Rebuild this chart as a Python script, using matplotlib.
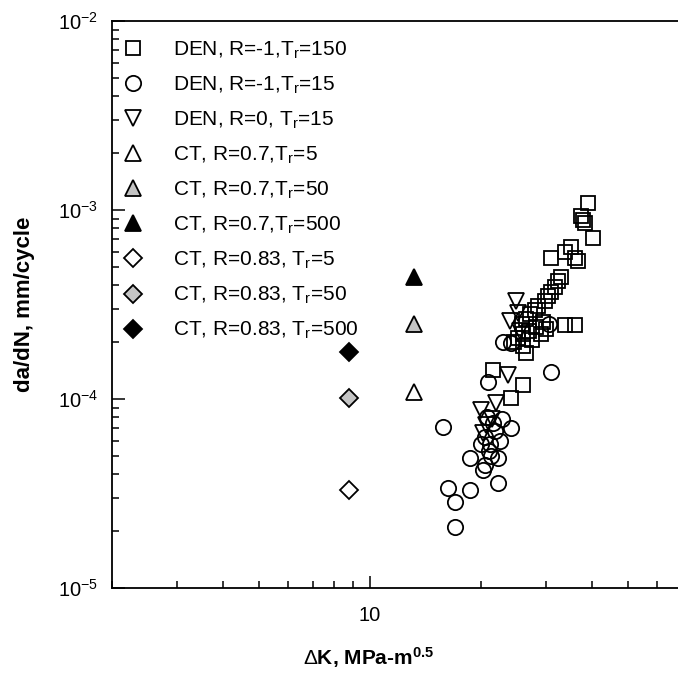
import matplotlib
matplotlib.use("Agg")
import matplotlib.pyplot as plt
from matplotlib.ticker import LogLocator, NullFormatter, FixedLocator, FixedFormatter

plt.rcParams["font.family"] = ["Liberation Sans", "DejaVu Sans"]
plt.rcParams["mathtext.fontset"] = "custom"
plt.rcParams["mathtext.rm"] = "Liberation Sans"
plt.rcParams["mathtext.it"] = "Liberation Sans:italic"
plt.rcParams["mathtext.bf"] = "Liberation Sans:bold"
plt.rcParams["axes.unicode_minus"] = False

# DEN, R=-1, Tr=150 (squares)
sq_x = [39.0, 37.3, 37.8, 38.3, 40.2, 35.1, 33.8, 35.9, 36.6, 30.9,
        32.9, 32.3, 31.7, 30.9, 30.4, 29.8, 28.5, 28.0, 27.2, 26.5,
        25.8, 35.9, 33.8, 29.5, 28.2, 27.0, 26.0, 25.2, 24.6, 29.0,
        30.0, 27.5, 26.0, 26.5, 21.5, 26.0, 24.1]
sq_y = [1.09e-3, 9.3e-4, 8.8e-4, 8.5e-4, 7.1e-4, 6.4e-4, 6.0e-4, 5.6e-4, 5.4e-4, 5.6e-4,
        4.4e-4, 4.2e-4, 3.9e-4, 3.7e-4, 3.5e-4, 3.3e-4, 3.1e-4, 2.95e-4, 2.8e-4, 2.65e-4,
        2.5e-4, 2.47e-4, 2.47e-4, 2.55e-4, 2.4e-4, 2.3e-4, 2.2e-4, 2.1e-4, 2.0e-4, 2.2e-4,
        2.35e-4, 2.05e-4, 1.9e-4, 1.75e-4, 1.42e-4, 1.19e-4, 1.01e-4]

# DEN, R=-1, Tr=15 (circles)
ci_x = [30.9, 24.1, 23.0, 30.5, 20.9, 15.8, 24.1, 18.7, 20.2, 20.5,
        22.2, 22.2, 16.3, 18.7, 17.0, 17.0, 20.5, 21.2, 21.8, 22.5,
        21.0, 20.0, 22.8, 21.5, 20.8, 21.3]
ci_y = [1.39e-4, 1.98e-4, 2.0e-4, 2.5e-4, 1.23e-4, 7.1e-5, 7.0e-5, 4.9e-5, 4.2e-5, 4.5e-5,
        4.9e-5, 3.6e-5, 3.4e-5, 3.3e-5, 2.85e-5, 2.1e-5, 6.3e-5, 5.8e-5, 6.8e-5, 6.0e-5,
        5.3e-5, 5.8e-5, 7.8e-5, 7.5e-5, 8.0e-5, 5.0e-5]

# DEN, R=0, Tr=15 (down triangles)
dt_x = [24.9, 25.2, 23.7, 20.0, 21.9, 20.6, 21.4, 20.3, 24.0, 25.5]
dt_y = [3.3e-4, 2.85e-4, 1.34e-4, 8.7e-5, 9.5e-5, 7.3e-5, 7.8e-5, 6.6e-5, 2.6e-4, 2.3e-4]

# CT series (single points, Tr = 5, 50, 500)
ct07_x = [13.2, 13.2, 13.2]
ct07_y = [1.09e-4, 2.5e-4, 4.4e-4]
ct083_x = [8.8, 8.8, 8.8]
ct083_y = [3.3e-5, 1.01e-4, 1.77e-4]

labels = [
    r"DEN, R=-1,T$_\mathrm{r}$=150",
    r"DEN, R=-1,T$_\mathrm{r}$=15",
    r"DEN, R=0, T$_\mathrm{r}$=15",
    r"CT, R=0.7,T$_\mathrm{r}$=5",
    r"CT, R=0.7,T$_\mathrm{r}$=50",
    r"CT, R=0.7,T$_\mathrm{r}$=500",
    r"CT, R=0.83, T$_\mathrm{r}$=5",
    r"CT, R=0.83, T$_\mathrm{r}$=50",
    r"CT, R=0.83, T$_\mathrm{r}$=500",
]
fills = ["white", "#c4c4c4", "black"]

fig = plt.figure(figsize=(6.78, 6.84), dpi=100)
ax = fig.add_axes([0.165, 0.1404, 0.925, 0.829])

mew = 1.3
ax.plot(sq_x, sq_y, ls="none", marker="s", ms=10.5, mfc="none", mec="black", mew=mew, label=labels[0])
ax.plot(ci_x, ci_y, ls="none", marker="o", ms=11, mfc="none", mec="black", mew=mew, label=labels[1])
ax.plot(dt_x, dt_y, ls="none", marker="v", ms=11, mfc="none", mec="black", mew=mew, label=labels[2])
for i in range(3):
    ax.plot(ct07_x[i], ct07_y[i], ls="none", marker="^", ms=11, mfc=fills[i], mec="black",
            mew=mew, label=labels[3 + i])
for i in range(3):
    ax.plot(ct083_x[i], ct083_y[i], ls="none", marker="D", ms=9, mfc=fills[i], mec="black",
            mew=mew, label=labels[6 + i])

ax.set_xscale("log")
ax.set_yscale("log")
ax.set_xlim(2, 100)
ax.set_ylim(1e-5, 1e-2)

ax.xaxis.set_major_locator(FixedLocator([10]))
ax.xaxis.set_major_formatter(FixedFormatter(["10"]))
ax.xaxis.set_minor_locator(LogLocator(base=10, subs=range(2, 10), numticks=20))
ax.xaxis.set_minor_formatter(NullFormatter())
ax.yaxis.set_minor_locator(LogLocator(base=10, subs=range(2, 10), numticks=20))
ax.yaxis.set_minor_formatter(NullFormatter())

ax.tick_params(which="both", direction="in", top=False, right=False, width=1.1)
ax.tick_params(which="major", length=9, labelsize=14.5, pad=10)
ax.tick_params(axis="x", which="major", pad=13)
ax.tick_params(which="minor", length=5)
for sp in ax.spines.values():
    sp.set_linewidth(1.3)

ax.set_xlabel(r"$\Delta$K, MPa-m$^{\mathbf{0.5}}$", fontsize=15, fontweight="bold")
ax.xaxis.set_label_coords(0.41, -0.1)
ax.set_ylabel("da/dN, mm/cycle", fontsize=16, fontweight="bold")
ax.yaxis.set_label_coords(-0.122, 0.5)

ax.legend(loc="upper left", bbox_to_anchor=(0.0, 0.982), frameon=False, fontsize=15,
          handletextpad=1.35, labelspacing=0.66, borderaxespad=0.0, handlelength=1.2,
          numpoints=1)

fig.savefig("out.png", dpi=100)
